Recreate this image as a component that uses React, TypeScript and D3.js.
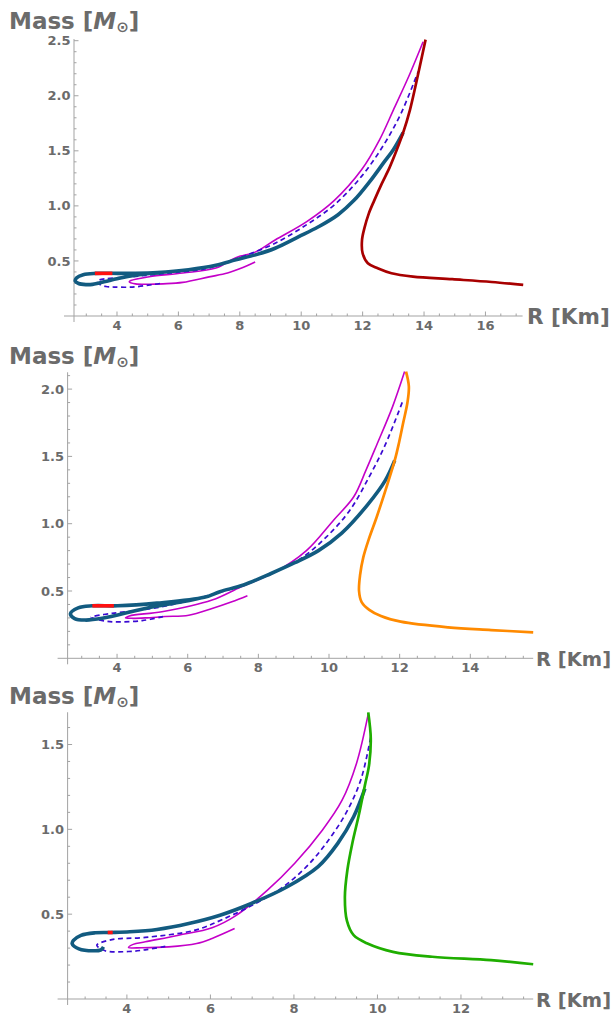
import React from "react";
import * as d3 from "d3";

type Pt = [number, number]; // [R in km, M in solar masses]

// ---- top panel (dark red EOS)
const p1Eos: Pt[] = [
  [14.05, 2.51], [13.81, 2.2], [13.54, 1.87], [13.32, 1.665], [13.1, 1.5], [12.88, 1.35],
  [12.62, 1.2], [12.38, 1.05], [12.2, 0.93], [12.06, 0.8], [11.98, 0.69], [12.0, 0.57],
  [12.17, 0.479], [12.49, 0.433], [12.94, 0.388], [13.64, 0.358], [14.92, 0.334],
  [16.2, 0.309], [17.23, 0.282],
];
const p1Blue: Pt[] = [
  [13.32, 1.665], [13.0, 1.51], [12.68, 1.39], [12.23, 1.22], [11.72, 1.05], [11.2, 0.92],
  [10.56, 0.81], [9.92, 0.72], [9.15, 0.615], [8.51, 0.555], [7.87, 0.51], [7.22, 0.46],
  [6.33, 0.42], [5.31, 0.395], [4.5, 0.388], [4.03, 0.387], [3.3, 0.387], [2.9, 0.375],
  [2.68, 0.345], [2.64, 0.318], [2.75, 0.295], [2.99, 0.285], [3.2, 0.287], [3.42, 0.3],
  [4.07, 0.342], [4.6, 0.37], [5.05, 0.387], [5.4, 0.392],
];
const p1Red: Pt[] = [[3.28, 0.387], [3.85, 0.387]];
const p1Dashed: Pt[] = [
  [5.4, 0.295], [5.16, 0.285], [4.5, 0.263], [3.9, 0.263], [3.64, 0.268], [3.42, 0.29],
  [3.35, 0.31], [3.42, 0.327], [4.5, 0.357], [5.6, 0.387], [6.9, 0.43], [7.6, 0.49],
  [8.2, 0.55], [9.15, 0.66], [10.18, 0.83], [11.08, 1.01], [11.97, 1.27], [12.7, 1.56],
  [13.25, 1.84], [13.81, 2.22],
];
const p1Magenta: Pt[] = [
  [8.5, 0.49], [8.1, 0.44], [7.6, 0.39], [7.0, 0.355], [6.14, 0.305], [5.5, 0.292],
  [5.05, 0.288], [4.6, 0.292], [4.4, 0.31], [4.45, 0.322], [5.05, 0.357], [6.14, 0.39],
  [7.22, 0.435], [7.87, 0.53], [8.5, 0.58], [9.15, 0.69], [10.18, 0.857], [11.08, 1.05],
  [11.97, 1.33], [12.55, 1.6], [13.0, 1.87], [13.54, 2.2], [13.97, 2.49],
];
const p1XTicks = [4, 6, 8, 10, 12, 14, 16];
const p1YTicks = [0.5, 1.0, 1.5, 2.0, 2.5];

// ---- middle panel (orange EOS)
const p2Eos: Pt[] = [
  [12.18, 2.13], [12.26, 2.02], [12.22, 1.9], [12.1, 1.75], [11.98, 1.6], [11.86, 1.47],
  [11.6, 1.25], [11.35, 1.05], [11.12, 0.88], [10.97, 0.75], [10.88, 0.62], [10.85, 0.5],
  [10.92, 0.42], [11.14, 0.36], [11.47, 0.314], [12.03, 0.272], [13.37, 0.23],
  [14.59, 0.21], [15.78, 0.193],
];
const p2Blue: Pt[] = [
  [11.86, 1.47], [11.59, 1.32], [11.09, 1.14], [10.36, 0.93], [9.7, 0.8], [9.03, 0.71],
  [8.36, 0.63], [7.58, 0.545], [6.91, 0.495], [6.47, 0.453], [5.13, 0.41], [4.02, 0.39],
  [3.3, 0.39], [2.9, 0.375], [2.68, 0.33], [2.8, 0.295], [3.1, 0.284], [3.58, 0.297],
  [4.8, 0.37], [5.84, 0.42], [6.3, 0.445],
];
const p2Red: Pt[] = [[3.3, 0.39], [3.91, 0.39]];
const p2Dashed: Pt[] = [
  [5.3, 0.31], [4.71, 0.28], [4.0, 0.27], [3.67, 0.277], [3.35, 0.295], [3.27, 0.305],
  [3.86, 0.334], [4.6, 0.355], [5.27, 0.383], [5.9, 0.42], [6.5, 0.46], [7.58, 0.545],
  [8.25, 0.62], [9.14, 0.73], [9.92, 0.9], [10.59, 1.1], [11.14, 1.35], [11.59, 1.585],
  [12.1, 1.92],
];
const p2Magenta: Pt[] = [
  [7.69, 0.465], [7.25, 0.42], [6.69, 0.37], [6.03, 0.32], [5.36, 0.31], [4.8, 0.3],
  [4.42, 0.297], [4.24, 0.3], [4.35, 0.315], [5.27, 0.346], [6.69, 0.433], [7.5, 0.53],
  [8.47, 0.64], [9.36, 0.8], [10.14, 1.03], [10.7, 1.2], [11.05, 1.4], [11.35, 1.585],
  [11.8, 1.87], [12.14, 2.13],
];
const p2XTicks = [4, 6, 8, 10, 12, 14];
const p2YTicks = [0.5, 1.0, 1.5, 2.0];

// ---- bottom panel (green EOS)
const p3Eos: Pt[] = [
  [9.78, 1.689], [9.84, 1.535], [9.8, 1.38], [9.7, 1.26], [9.55, 1.08], [9.4, 0.92],
  [9.28, 0.76], [9.22, 0.6], [9.27, 0.46], [9.43, 0.376], [9.76, 0.327], [10.37, 0.278],
  [11.31, 0.249], [12.72, 0.229], [13.73, 0.205],
];
const p3Blue: Pt[] = [
  [9.7, 1.24], [9.43, 1.074], [9.05, 0.917], [8.58, 0.78], [7.83, 0.66], [6.98, 0.563],
  [6.23, 0.494], [5.48, 0.445], [4.72, 0.41], [4.07, 0.396], [3.6, 0.392], [3.24, 0.39],
  [2.9, 0.375], [2.72, 0.345], [2.69, 0.325], [2.85, 0.295], [3.2, 0.284], [3.38, 0.29],
  [3.44, 0.307],
];
const p3Red: Pt[] = [[3.54, 0.392], [3.66, 0.392]];
const p3Dashed: Pt[] = [
  [4.92, 0.31], [4.44, 0.29], [4.04, 0.28], [3.48, 0.284], [3.28, 0.317], [3.64, 0.35],
  [4.44, 0.363], [5.64, 0.406], [6.3, 0.47], [7.08, 0.563], [7.74, 0.66], [8.3, 0.78],
  [8.77, 0.917], [9.24, 1.093], [9.6, 1.29], [9.84, 1.545],
];
const p3Magenta: Pt[] = [
  [6.58, 0.415], [6.04, 0.357], [5.67, 0.327], [5.0, 0.307], [4.35, 0.302], [4.04, 0.304],
  [4.15, 0.322], [4.44, 0.337], [5.24, 0.376], [6.04, 0.42], [6.6, 0.49], [7.36, 0.64],
  [8.02, 0.8], [8.68, 0.995], [9.15, 1.17], [9.5, 1.39], [9.78, 1.68],
];
const p3XTicks = [4, 6, 8, 10, 12];
const p3YTicks = [0.5, 1.0, 1.5];

const panels = [
  {
    eos: p1Eos, blue: p1Blue, red: p1Red, dashed: p1Dashed, magenta: p1Magenta,
    xTicks: p1XTicks, yTicks: p1YTicks, eosColor: "#a80000",
    xDom: [2.6, 17.21], xRange: [74, 522.6], yDom: [0, 2.5], yRange: [316, 40.7], yTop: 2.515,
    titleY: 28.5, rLabelX: 527, rLabelSize: 21.5,
  },
  {
    eos: p2Eos, blue: p2Blue, red: p2Red, dashed: p2Dashed, magenta: p2Magenta,
    xTicks: p2XTicks, yTicks: p2YTicks, eosColor: "#ff8a00",
    xDom: [2.6, 15.78], xRange: [67.6, 533.2], yDom: [0, 2.0], yRange: [658.3, 389.1], yTop: 2.125,
    titleY: 363.5, rLabelX: 536, rLabelSize: 19.5,
  },
  {
    eos: p3Eos, blue: p3Blue, red: p3Red, dashed: p3Dashed, magenta: p3Magenta,
    xTicks: p3XTicks, yTicks: p3YTicks, eosColor: "#1fae00",
    xDom: [2.58, 13.73], xRange: [67.6, 533.2], yDom: [0, 1.5], yRange: [999, 744.5], yTop: 1.69,
    titleY: 703.5, rLabelX: 536, rLabelSize: 19.5,
  },
];

const font = "'DejaVu Sans', sans-serif";
const axisColor = "#a3a3a3";
const labelColor = "#6b6b6b";

function Panel({ cfg }: { cfg: any }) {
  const x = d3.scaleLinear().domain(cfg.xDom).range(cfg.xRange);
  const y = d3.scaleLinear().domain(cfg.yDom).range(cfg.yRange);
  const line = d3
    .line<Pt>()
    .x((d) => x(d[0]))
    .y((d) => y(d[1]))
    .curve(d3.curveCatmullRom.alpha(0.5));

  const ax = cfg.xRange[0];
  const ay = y(0);
  const xMinor = d3.range(3, cfg.xDom[1], 0.5);
  const yMinor = d3.range(0.1, cfg.yTop, 0.1);

  return (
    <g>
      {/* axes */}
      <line x1={ax - 10} x2={cfg.xRange[1]} y1={ay} y2={ay} stroke={axisColor} strokeWidth={1} />
      <line x1={ax} x2={ax} y1={ay + 6} y2={y(cfg.yTop)} stroke={axisColor} strokeWidth={1} />
      {xMinor.map((t: number) => (
        <line key={"xm" + t} x1={x(t)} x2={x(t)} y1={ay} y2={ay - (t % 2 === 0 ? 4.5 : 2.5)} stroke={axisColor} />
      ))}
      {yMinor.map((t: number) => (
        <line key={"ym" + t} x1={ax} x2={ax + (Math.abs(t * 2 - Math.round(t * 2)) < 1e-6 ? 4.5 : 2.5)} y1={y(t)} y2={y(t)} stroke={axisColor} />
      ))}
      {cfg.xTicks.map((t: number) => (
        <text key={"xt" + t} x={x(t)} y={ay + 14} textAnchor="middle" fontFamily={font} fontWeight="bold" fontSize={13} fill={labelColor}>
          {t}
        </text>
      ))}
      {cfg.yTicks.map((t: number) => (
        <text key={"yt" + t} x={ax - 3.5} y={y(t) + 4.6} textAnchor="end" fontFamily={font} fontWeight="bold" fontSize={13} fill={labelColor}>
          {t.toFixed(1)}
        </text>
      ))}

      {/* axis labels */}
      <text x={9} y={cfg.titleY} fontFamily={font} fontWeight="bold" fontSize={23} fill={labelColor}>
        Mass [<tspan fontStyle="italic">M</tspan>
        <tspan fontSize={15} dy={3}>⊙</tspan>
        <tspan dy={-3}>]</tspan>
      </text>
      <text x={cfg.rLabelX} y={ay + 8} fontFamily={font} fontWeight="bold" fontSize={cfg.rLabelSize} fill={labelColor}>
        R [Km]
      </text>

      {/* curves */}
      <path d={line(cfg.magenta) || ""} fill="none" stroke="#c400c8" strokeWidth={1.6} />
      <path d={line(cfg.dashed) || ""} fill="none" stroke="#3a0ad2" strokeWidth={1.7} strokeDasharray="5,3.5" />
      <path d={line(cfg.blue) || ""} fill="none" stroke="#125b80" strokeWidth={3.6} strokeLinejoin="round" />
      <path d={line(cfg.red) || ""} fill="none" stroke="#ff1010" strokeWidth={3.6} />
      <path d={line(cfg.eos) || ""} fill="none" stroke={cfg.eosColor} strokeWidth={2.7} strokeLinejoin="round" />
    </g>
  );
}

export default function App() {
  return (
    <svg
      width={613}
      height={1015}
      style={{ position: "absolute", left: 0, top: 0, background: "#fff" }}
    >
      {panels.map((p, i) => (
        <Panel key={i} cfg={p} />
      ))}
    </svg>
  );
}
